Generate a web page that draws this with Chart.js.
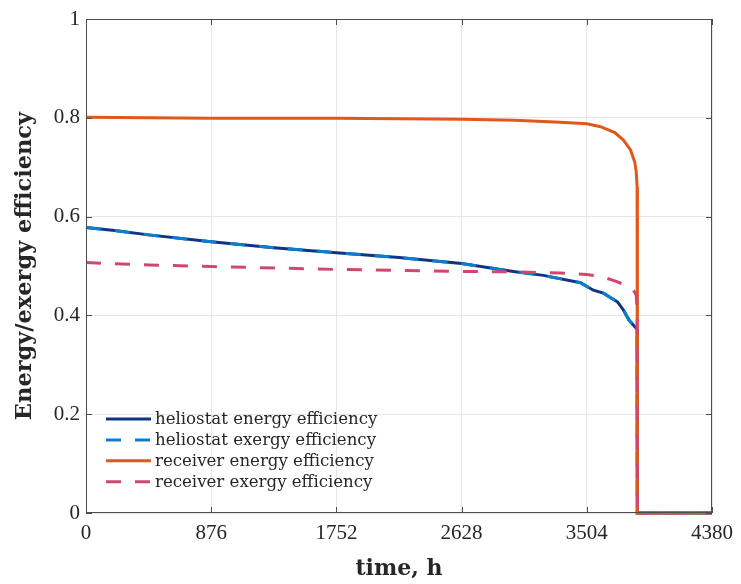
<!DOCTYPE html>
<html>
<head>
<meta charset="utf-8">
<script src="https://cdn.jsdelivr.net/npm/chart.js@4.4.1/dist/chart.umd.min.js"></script>
<style>
  html, body { margin: 0; padding: 0; background: #fff; }
  #wrap { width: 741px; height: 584px; }
</style>
</head>
<body>
<div id="wrap"><canvas id="effChart" width="741" height="584"></canvas></div>
<script>
// values
const xTicks = [0, 876, 1752, 2628, 3504, 4380];
const yTicks = [0, 0.2, 0.4, 0.6, 0.8, 1];

const helioTime   = [0, 200, 438, 876, 1314, 1752, 2190, 2628, 2990, 3200, 3460, 3550, 3620, 3720, 3760, 3800, 3856, 3857, 4380];
const helioEnergy = [0.578, 0.572, 0.563, 0.549, 0.537, 0.527, 0.517, 0.505, 0.489, 0.481, 0.466, 0.451, 0.445, 0.427, 0.411, 0.390, 0.372, 0, 0];
const helioExergy = [0.578, 0.572, 0.563, 0.549, 0.537, 0.527, 0.517, 0.505, 0.489, 0.481, 0.466, 0.451, 0.445, 0.427, 0.411, 0.390, 0.372, 0, 0];

const recvTime   = [0, 438, 876, 1752, 2628, 3000, 3318, 3504, 3600, 3700, 3760, 3810, 3840, 3850, 3856, 3858, 4380];
const recvEnergy = [0.801, 0.800, 0.799, 0.799, 0.797, 0.795, 0.791, 0.788, 0.782, 0.770, 0.755, 0.735, 0.710, 0.690, 0.660, 0, 0];
const recvExergy = [0.507, 0.502, 0.499, 0.493, 0.489, 0.488, 0.486, 0.483, 0.479, 0.470, 0.463, 0.456, 0.447, 0.440, 0.410, 0, 0];

const labels = [
    'heliostat energy efficiency',
    'heliostat exergy efficiency',
    'receiver energy efficiency',
    'receiver exergy efficiency'
];

const serif = '"Liberation Serif", serif';
const wideSerif = '"DejaVu Serif", serif';
const dash = [15, 14];

function pts(xs, ys) {
    return xs.map((x, i) => ({ x: x, y: ys[i] }));
}

// box, inward ticks and the legend, the way the original figure has them
const boxPlugin = {
    id: 'box',
    afterDraw(chart) {
        const ctx = chart.ctx;
        const a = chart.chartArea;
        const xs = chart.scales.x, ys = chart.scales.y;
        ctx.save();
        ctx.strokeStyle = '#4d4d4d';
        ctx.lineWidth = 1;
        ctx.strokeRect(a.left + 0.5, a.top + 0.5, a.right - a.left - 1, a.bottom - a.top - 1);
        ctx.beginPath();
        xTicks.forEach(t => {
            const px = Math.round(xs.getPixelForValue(t)) + 0.5;
            ctx.moveTo(px, a.bottom); ctx.lineTo(px, a.bottom - 6);
            ctx.moveTo(px, a.top); ctx.lineTo(px, a.top + 6);
        });
        yTicks.forEach(t => {
            const py = Math.round(ys.getPixelForValue(t)) + 0.5;
            ctx.moveTo(a.left, py); ctx.lineTo(a.left + 6, py);
            ctx.moveTo(a.right, py); ctx.lineTo(a.right - 6, py);
        });
        ctx.stroke();

        // legend
        ctx.font = '16.6px ' + wideSerif;
        ctx.textBaseline = 'middle';
        chart.data.datasets.forEach((ds, i) => {
            const y = 419 + i * 20.9;
            ctx.strokeStyle = ds.borderColor;
            ctx.lineWidth = 3;
            ctx.setLineDash(ds.borderDash || []);
            ctx.beginPath();
            ctx.moveTo(106, y);
            ctx.lineTo(151, y);
            ctx.stroke();
            ctx.setLineDash([]);
            ctx.fillStyle = '#262626';
            ctx.fillText(ds.label, 155, y + 1);
        });
        ctx.restore();
    }
};

new Chart('effChart', {
    type: 'line',
    data: {
        datasets: [
            {
                label: labels[0],
                data: pts(helioTime, helioEnergy),
                borderColor: '#0f3482',
                borderWidth: 3,
                clip: false,
                order: 4
            },
            {
                label: labels[1],
                data: pts(helioTime, helioExergy),
                borderColor: '#0b7fcd',
                borderWidth: 3,
                borderDash: dash,
                clip: false,
                order: 3
            },
            {
                label: labels[2],
                data: pts(recvTime, recvEnergy),
                borderColor: '#e0581a',
                borderWidth: 3,
                clip: false,
                order: 2
            },
            {
                label: labels[3],
                data: pts(recvTime, recvExergy),
                borderColor: '#d2476d',
                borderWidth: 3,
                borderDash: dash,
                clip: false,
                order: 1
            }
        ]
    },
    options: {
        responsive: false,
        animation: false,
        elements: { point: { radius: 0 }, line: { tension: 0, borderCapStyle: 'butt' } },
        layout: { padding: { top: 19, right: 29, left: 0, bottom: 0 } },
        plugins: { legend: { display: false }, tooltip: { enabled: false } },
        scales: {
            x: {
                type: 'linear',
                min: 0,
                max: 4380,
                afterBuildTicks: s => { s.ticks = xTicks.map(v => ({ value: v })); },
                afterFit: s => { s.height = 71; },
                grid: { color: '#e6e6e6', drawTicks: false },
                border: { display: false },
                ticks: {
                    padding: 8,
                    maxRotation: 0,
                    color: '#262626',
                    font: { family: serif, size: 21 },
                    callback: v => String(v)
                },
                title: {
                    display: true,
                    text: 'time, h',
                    color: '#262626',
                    padding: { top: 0, bottom: 2 },
                    font: { family: wideSerif, size: 22, weight: 'bold' }
                }
            },
            y: {
                min: 0,
                max: 1,
                afterBuildTicks: s => { s.ticks = yTicks.map(v => ({ value: v })); },
                afterFit: s => { s.width = 86; },
                grid: { color: '#e6e6e6', drawTicks: false },
                border: { display: false },
                ticks: {
                    padding: 6,
                    color: '#262626',
                    font: { family: serif, size: 21 },
                    callback: v => String(Math.round(v * 10) / 10)
                },
                title: {
                    display: true,
                    text: 'Energy/exergy efficiency',
                    color: '#262626',
                    padding: { top: 12, bottom: 0 },
                    font: { family: wideSerif, size: 22.5, weight: 'bold' }
                }
            }
        }
    },
    plugins: [boxPlugin]
});
</script>
</body>
</html>
